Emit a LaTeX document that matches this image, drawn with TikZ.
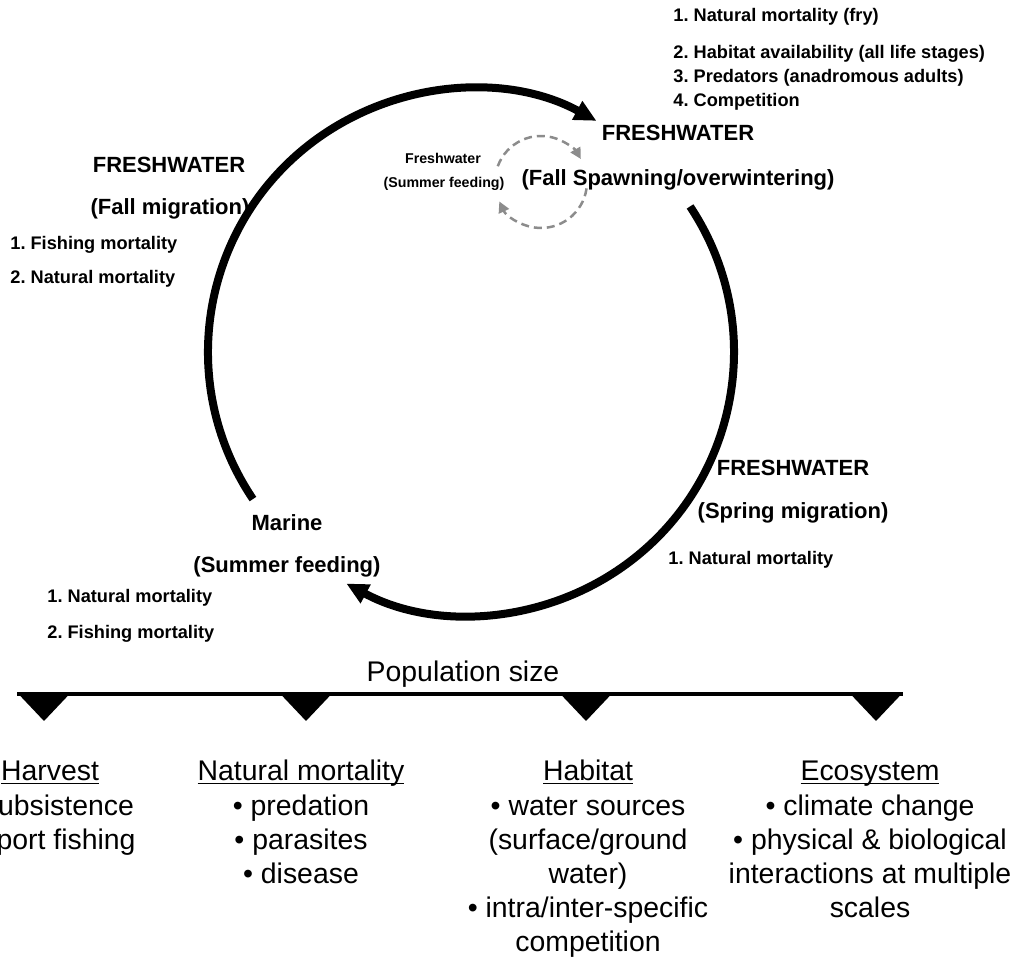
\documentclass[tikz,border=0pt]{standalone}
\usepackage{fontspec}
\setmainfont{Liberation Sans}
\usetikzlibrary{arrows.meta}
\frenchspacing
\newcommand\headline[1]{\underline{\smash{#1}\vphantom{H}}}
\tikzset{
  stagelab/.style={font=\fontsize{11}{13}\selectfont\bfseries, inner sep=0pt, anchor=base},
  causelab/.style={font=\fontsize{9.1}{11}\selectfont\bfseries, inner sep=0pt, anchor=base west},
  tinylab/.style={font=\fontsize{7.1}{9}\selectfont\bfseries, inner sep=0pt, anchor=base},
  factorcol/.style={font=\fontsize{14.2}{17.1}\selectfont, align=center, inner sep=0pt, anchor=north},
  lifearc/.style={line width=4pt, -{Triangle[length=11pt,width=10pt]}},
  looparc/.style={line width=1.25pt, black!45, dash pattern=on 4pt off 2.5pt, -{Triangle[length=5.5pt,width=5.5pt]}},
}
\begin{document}
\begin{tikzpicture}[x=0.5pt,y=0.5pt]
\clip (0,0) rectangle (1016,957);
\coordinate (c) at (471,605);
\coordinate (d) at (541,775);
\draw [lifearc] ([shift={(214:131.5pt)}]c) arc [start angle=214, end angle=61.5, radius=131.5pt];
\draw [lifearc] ([shift={(33.6:131.5pt)}]c) arc [start angle=33.6, end angle=-118.3, radius=131.5pt];
\draw [looparc] ([shift={(160:23pt)}]d) arc [start angle=160, end angle=30, radius=23pt];
\draw [looparc] ([shift={(-8:23pt)}]d) arc [start angle=-8, end angle=-155, radius=23pt];
\node [causelab] (spawn1) at (673,935.5) {1. Natural mortality (fry)};
\node [causelab] (spawn2) at (673,898.5) {2. Habitat availability (all life stages)};
\node [causelab] (spawn3) at (673,874.5) {3. Predators (anadromous adults)};
\node [causelab] (spawn4) at (673,850.5) {4. Competition};
\node [stagelab] (spawnfw) at (678,816) {FRESHWATER};
\node [stagelab] (spawn) at (678,771) {(Fall Spawning/overwintering)};
\node [tinylab] (summerfw) at (443,793) {Freshwater};
\node [tinylab] (summer) at (444,769) {(Summer feeding)};
\node [stagelab] (fallfw) at (169,784) {FRESHWATER};
\node [stagelab] (fall) at (170,742) {(Fall migration)};
\node [causelab] (fall1) at (10,707.5) {1. Fishing mortality};
\node [causelab] (fall2) at (10,673.5) {2. Natural mortality};
\node [stagelab] (springfw) at (793,481) {FRESHWATER};
\node [stagelab] (spring) at (793,438) {(Spring migration)};
\node [causelab] (spring1) at (668,392.5) {1. Natural mortality};
\node [stagelab] (marine) at (287,426) {Marine};
\node [stagelab] (feeding) at (287,384) {(Summer feeding)};
\node [causelab] (marine1) at (47,354.5) {1. Natural mortality};
\node [causelab] (marine2) at (47,318.5) {2. Fishing mortality};
\node [font=\fontsize{14.2}{17.1}\selectfont, inner sep=0pt, anchor=base] (popsize) at (463,275) {Population size};
\draw [line width=2.25pt] (17,263) -- (903,263);
\foreach \tx in {44,306,586,876}
  \fill (\tx-26.5,264) -- (\tx+26.5,264) -- (\tx,236) -- cycle;
\node [factorcol] (harvest) at (50,196) {\headline{Harvest}\\• subsistence\\• sport fishing};
\node [factorcol] (natural) at (301,196) {\headline{Natural mortality}\\• predation\\• parasites\\• disease};
\node [factorcol] (habitat) at (588,196) {\headline{Habitat}\\• water sources\\(surface/ground\\water)\\• intra/inter-specific\\competition};
\node [factorcol] (ecosys) at (870,196) {\headline{Ecosystem}\\• climate change\\• physical \& biological\\interactions at multiple\\scales};
\end{tikzpicture}
\end{document}
